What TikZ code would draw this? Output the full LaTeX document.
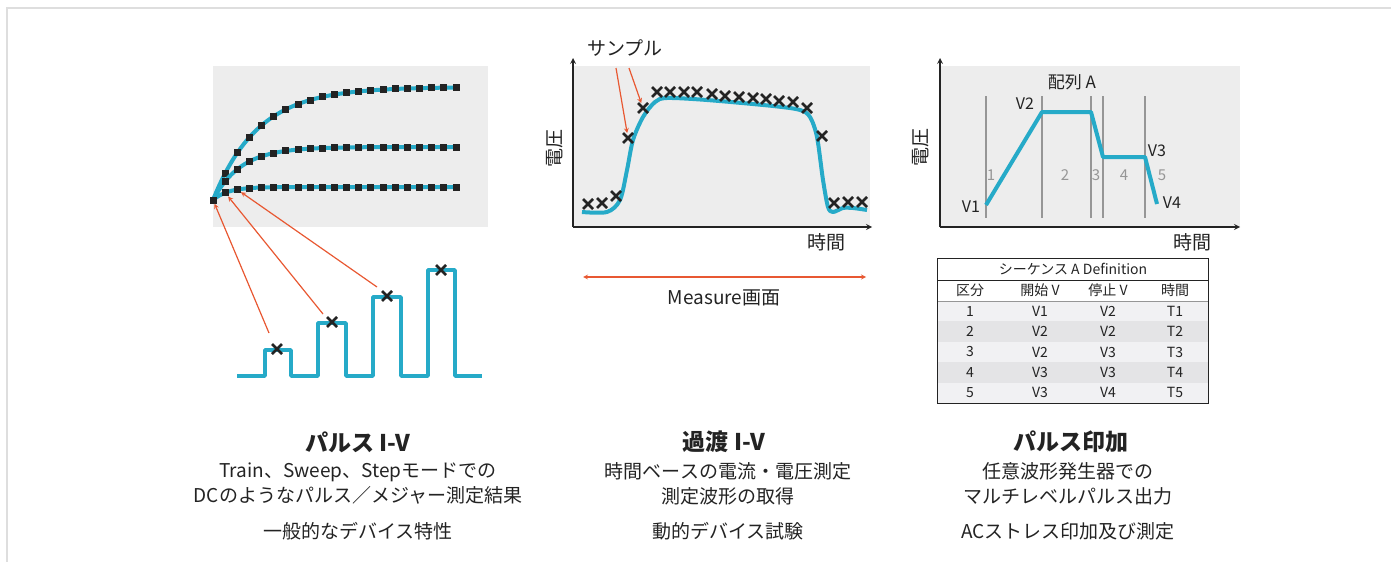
\documentclass[tikz,border=0pt]{standalone}
\usepackage{fontspec}
\setmainfont{Noto Sans CJK JP}
\usepackage{tikz}
\usetikzlibrary{arrows,shapes,positioning}
\definecolor{kcyan}{RGB}{38,170,200}
\definecolor{kred}{RGB}{232,88,50}
\definecolor{kpanel}{RGB}{237,237,237}
\definecolor{kframe}{RGB}{222,222,222}
\definecolor{kseg}{RGB}{150,150,150}
\definecolor{krowa}{RGB}{241,241,243}
\definecolor{krowb}{RGB}{228,228,230}
\definecolor{ktext}{RGB}{35,35,35}
\tikzstyle{panel} = [fill=kpanel]
\tikzstyle{wave} = [kcyan, line width=4pt, line join=round]
\tikzstyle{sq} = [rectangle, fill=ktext, minimum size=7pt, inner sep=0pt]
\tikzstyle{xm} = [cross out, draw=ktext, line width=2.5pt, minimum size=7.5pt, inner sep=0pt]
\tikzstyle{pointer} = [->, >=stealth, kred, line width=1.2pt]
\tikzstyle{axis} = [->, >=stealth, ktext, line width=1.6pt]
\tikzstyle{segline} = [kseg, line width=1.8pt]
\tikzstyle{lbl} = [font=\fontsize{19}{21}\selectfont, text=ktext, inner sep=0pt]
\tikzstyle{vlbl} = [font=\fontsize{16}{18}\selectfont, text=ktext, inner sep=0pt]
\tikzstyle{seg} = [font=\fontsize{15}{17}\selectfont, text=kseg, inner sep=0pt]
\tikzstyle{cell} = [font=\fontsize{14}{16}\selectfont, text=ktext, inner sep=0pt]
\tikzstyle{title} = [font=\fontsize{23}{25}\selectfont\bfseries, text=ktext, inner sep=0pt]
\tikzstyle{desc} = [font=\fontsize{19}{25}\selectfont, text=ktext, align=center, inner sep=0pt]

\begin{document}
\begin{tikzpicture}[x=1pt, y=-1pt]
\useasboundingbox (0,0) rectangle (1391,562);
% Frame
\draw[kframe, line width=2pt] (1391,8) -- (7,8) -- (7,562);

% Pulse I-V curves
\fill[panel] (213,66) rectangle (488,227);
\foreach \yend/\amp/\tau [count=\c] in {87/113/45, 147/53/28, 187/13/15} {
  \draw[wave] plot[domain=213:456, samples=80] (\x,{\yend+\amp*exp(-(\x-213)/\tau)});
  \foreach \k in {1,...,20} {
    \pgfmathsetmacro\px{213+12.15*\k}
    \pgfmathsetmacro\py{\yend+\amp*exp(-(\px-213)/\tau)}
    \node (q\c-\k) [sq] at (\px,\py) {};
  }
}
\node (q0) [sq] at (213,200) {};

% Pulse train
\draw[wave, line width=3.5pt] (237,376) -- (265,376) -- (265,350) -- (291,350) -- (291,376)
  -- (318,376) -- (318,323) -- (346,323) -- (346,376) -- (373,376) -- (373,297) -- (401,297)
  -- (401,376) -- (428,376) -- (428,270) -- (455,270) -- (455,376) -- (482,376);
\node (p1) [xm] at (277,349) {};
\node (p2) [xm] at (332,322) {};
\node (p3) [xm] at (387,296) {};
\node (p4) [xm] at (441,270) {};
\coordinate (a1) at (269,333);
\coordinate (a2) at (323,314);
\coordinate (a3) at (377,287);
\draw[pointer] (a1) -- (q0);
\draw[pointer] (a2) -- (q3-1);
\draw[pointer] (a3) -- (q3-2);

% Transient I-V
\fill[panel] (573,66) rectangle (870,227);
\coordinate (mo) at (573,227);
\coordinate (mx) at (872,227);
\coordinate (my) at (573,58);
\draw[axis] (mo) -- (mx);
\draw[axis] (mo) -- (my);
\node (mt) [lbl] at (826,242) {時間};
\node (mv) [lbl, rotate=90] at (555,148) {電圧};
\draw[wave] plot[smooth, tension=0.5] coordinates {(582,212) (607,212) (620,200) (627,170)
  (633,140) (643,117) (655,102) (667,98) (707,100) (773,106) (800,110) (810,117) (817,137)
  (823,180) (828,207) (833,212) (843,208) (853,208) (867,210)};
\foreach \px/\py [count=\i] in {588/204, 602/203, 616/196, 628/138, 643/108, 657/92, 670/92,
  684/92, 697/92, 712/94, 725/96, 739/97, 753/98, 766/99, 779/101, 793/102, 807/108, 822/136,
  834/203, 848/202, 862/202}
  \node (m\i) [xm] at (\px,\py) {};
\node (smp) [lbl] at (625,48) {サンプル};
\coordinate (b1) at (616,68);
\coordinate (b2) at (629,68);
\draw[pointer] (b1) -- (m4);
\draw[pointer] (b2) -- (m5);
\coordinate (ma) at (583,277);
\coordinate (mb) at (866,277);
\draw[pointer, <->] (ma) -- (mb);
\node (meas) [lbl] at (724,298) {Measure画面};

% Pulse stress
\fill[panel] (940,66) rectangle (1240,227);
\coordinate (ro) at (940,227);
\coordinate (rx) at (1240,227);
\coordinate (ry) at (940,58);
\draw[axis] (ro) -- (rx);
\draw[axis] (ro) -- (ry);
\node (rt) [lbl] at (1192,242) {時間};
\node (rv) [lbl, rotate=90] at (921,147) {電圧};
\node (seq) [lbl, font=\fontsize{17}{19}\selectfont] at (1072,82) {配列 A};
\foreach \px in {986,1042,1091,1103,1145}
  \draw[segline] (\px,96) -- (\px,218);
\foreach \px/\n in {991/1, 1065/2, 1096/3, 1124/4, 1162/5}
  \node (s\n) [seg] at (\px,175) {\n};
\draw[wave] (986,205) -- (1042,112) -- (1091,112) -- (1103,157) -- (1145,157) -- (1157,204);
\node (v1) [vlbl] at (971,207) {V1};
\node (v2) [vlbl] at (1025,104) {V2};
\node (v3) [vlbl] at (1157,151) {V3};
\node (v4) [vlbl] at (1172,203) {V4};

% Sequence table
\fill[krowa] (937,301) rectangle (1208,403);
\fill[krowb] (937,321.4) rectangle (1208,341.8);
\fill[krowb] (937,362.2) rectangle (1208,382.6);
\draw[ktext, line width=0.8pt] (937,280) -- (1208,280);
\draw[kseg, line width=1pt] (937,301) -- (1208,301);
\draw[ktext, line width=1pt] (937,258) rectangle (1208,403);
\node (thd) [cell] at (1073,269) {シーケンス A Definition};
\node (h1) [cell] at (970,290.5) {区分};
\node (h2) [cell] at (1040,290.5) {開始 V};
\node (h3) [cell] at (1108,290.5) {停止 V};
\node (h4) [cell] at (1175,290.5) {時間};
\foreach \n/\va/\vb/\t [count=\i] in {1/V1/V2/T1, 2/V2/V2/T2, 3/V2/V3/T3, 4/V3/V3/T4, 5/V3/V4/T5} {
  \pgfmathsetmacro\ry{311.2+20.4*(\i-1)}
  \node (c\i) [cell] at (970,\ry) {\n};
  \node (st\i) [cell] at (1040,\ry) {\va};
  \node (sp\i) [cell] at (1108,\ry) {\vb};
  \node (tm\i) [cell] at (1175,\ry) {\t};
}

% Captions
\node (lt) [title] at (358,442) {パルス I-V};
\node (ld) [desc] at (358,483.5) {Train、Sweep、Stepモードでの\\DCのようなパルス／メジャー測定結果};
\node (le) [desc] at (358,531) {一般的なデバイス特性};
\node (mtl) [title] at (724,442) {過渡 I-V};
\node (md) [desc] at (728,483.5) {時間ベースの電流・電圧測定\\測定波形の取得};
\node (me) [desc] at (728,531) {動的デバイス試験};
\node (rtl) [title] at (1071,442) {パルス印加};
\node (rd) [desc] at (1068,483.5) {任意波形発生器での\\マルチレベルパルス出力};
\node (re) [desc] at (1068,531) {ACストレス印加及び測定};
\end{tikzpicture}
\end{document}
